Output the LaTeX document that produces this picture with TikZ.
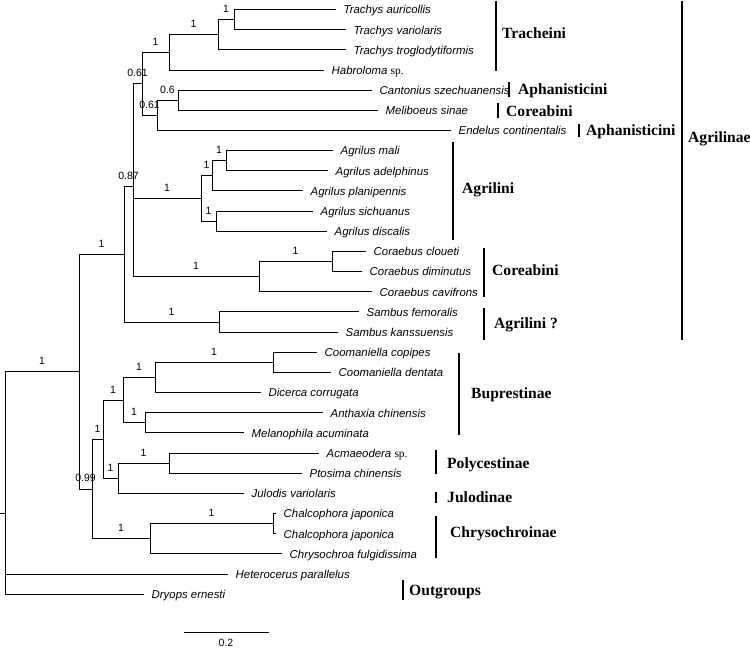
\documentclass[tikz,border=0pt]{standalone}
\usepackage{fontspec}
\setmainfont{Liberation Serif}
\setsansfont{Liberation Sans}
\usepackage{tikz}

\begin{document}
\begin{tikzpicture}[x=1pt,y=-1pt,
  twig/.style={black,line width=1pt,line cap=rect},
  cladebar/.style={black,line width=1.6pt},
  bs/.style={pos=0.75,above=6.5pt,inner sep=0pt,font=\sffamily\fontsize{10.5}{11}\selectfont},
  taxon/.style={anchor=base west,xshift=8.5pt,yshift=-4.3pt,inner sep=0pt,font=\sffamily\itshape\fontsize{11.4}{12}\selectfont},
  cladename/.style={anchor=base west,yshift=-5.2pt,inner sep=0pt,font=\rmfamily\bfseries\fontsize{15.6}{17}\selectfont}]
                          \useasboundingbox (0,0) rectangle (750,649);
                          \coordinate (TAU) at (335,9.5);
                          \coordinate (TVA) at (345,29.7);
                          \coordinate (TTR) at (345,49.8);
                          \coordinate (HAB) at (323,70.0);
                          \coordinate (CAN) at (371,90.1);
                          \coordinate (MEL) at (377,110.3);
                          \coordinate (ENC) at (450,130.5);
                          \coordinate (AMA) at (332,150.6);
                          \coordinate (AAD) at (327,170.8);
                          \coordinate (APL) at (302,190.9);
                          \coordinate (ASI) at (312,211.1);
                          \coordinate (ADI) at (326,231.3);
                          \coordinate (CCL) at (365,251.4);
                          \coordinate (CDI) at (361,271.6);
                          \coordinate (CCA) at (371,291.7);
                          \coordinate (SFE) at (358,311.9);
                          \coordinate (SKA) at (337,332.1);
                          \coordinate (CCO) at (316,352.2);
                          \coordinate (CDE) at (330,372.4);
                          \coordinate (DCO) at (260,392.5);
                          \coordinate (ACH) at (322,412.7);
                          \coordinate (MAC) at (243,432.9);
                          \coordinate (ASP) at (318,453.0);
                          \coordinate (PCH) at (301,473.2);
                          \coordinate (JVA) at (243,493.3);
                          \coordinate (CJA) at (275,513.5);
                          \coordinate (CJB) at (275,533.7);
                          \coordinate (CFU) at (281,553.8);
                          \coordinate (HPA) at (227,574.0);
                          \coordinate (DER) at (143,594.1);

                          \coordinate (N1) at (234,19.6);
                          \coordinate (N2) at (218,34.7);
                          \coordinate (N3) at (169,52.4);
                          \coordinate (N4) at (178,100.2);
                          \coordinate (N5) at (157,115.3);
                          \coordinate (N6) at (142,83.8);
                          \coordinate (N7) at (226,160.7);
                          \coordinate (N8) at (212,175.8);
                          \coordinate (N9) at (216,221.2);
                          \coordinate (N10) at (201,198.5);
                          \coordinate (N11) at (332,261.5);
                          \coordinate (N12) at (259,276.6);
                          \coordinate (N13) at (133,186.3);
                          \coordinate (N14) at (219,322.0);
                          \coordinate (N15) at (124,254.2);
                          \coordinate (N16) at (273,362.3);
                          \coordinate (N17) at (155,377.4);
                          \coordinate (N18) at (145,422.8);
                          \coordinate (N19) at (123,400.1);
                          \coordinate (N20) at (169,463.1);
                          \coordinate (N21) at (118,478.2);
                          \coordinate (N22) at (103,439.2);
                          \coordinate (N23) at (273,523.6);
                          \coordinate (N24) at (150,538.7);
                          \coordinate (N25) at (92,489.0);
                          \coordinate (N26) at (79,371.6);
                          \coordinate (ROOT) at (5,513.2);
                          \coordinate (STUB) at (0,513.2);

                          \draw[twig] (N1) |- (TAU);
                          \draw[twig] (N1) |- (TVA);
                          \draw[twig] (N2) |- node[bs]{1} (N1);
                          \draw[twig] (N2) |- (TTR);
                          \draw[twig] (N3) |- node[bs]{1} (N2);
                          \draw[twig] (N3) |- (HAB);
                          \draw[twig] (N4) |- (CAN);
                          \draw[twig] (N4) |- (MEL);
                          \draw[twig] (N5) |- node[bs]{0.6} (N4);
                          \draw[twig] (N5) |- (ENC);
                          \draw[twig] (N6) |- node[bs]{1} (N3);
                          \draw[twig] (N6) |- node[bs]{0.61} (N5);
                          \draw[twig] (N7) |- (AMA);
                          \draw[twig] (N7) |- (AAD);
                          \draw[twig] (N8) |- node[bs]{1} (N7);
                          \draw[twig] (N8) |- (APL);
                          \draw[twig] (N9) |- (ASI);
                          \draw[twig] (N9) |- (ADI);
                          \draw[twig] (N10) |- node[bs]{1} (N8);
                          \draw[twig] (N10) |- node[bs]{1} (N9);
                          \draw[twig] (N11) |- (CCL);
                          \draw[twig] (N11) |- (CDI);
                          \draw[twig] (N12) |- node[bs]{1} (N11);
                          \draw[twig] (N12) |- (CCA);
                          \draw[twig] (N13) |- node[bs]{0.61} (N6);
                          \draw[twig] (N13) |- node[bs]{1} (N10);
                          \draw[twig] (N13) |- node[bs]{1} (N12);
                          \draw[twig] (N14) |- (SFE);
                          \draw[twig] (N14) |- (SKA);
                          \draw[twig] (N15) |- node[bs]{0.87} (N13);
                          \draw[twig] (N15) |- node[bs]{1} (N14);

                          \draw[twig] (N16) |- (CCO);
                          \draw[twig] (N16) |- (CDE);
                          \draw[twig] (N17) |- node[bs]{1} (N16);
                          \draw[twig] (N17) |- (DCO);
                          \draw[twig] (N18) |- (ACH);
                          \draw[twig] (N18) |- (MAC);
                          \draw[twig] (N19) |- node[bs]{1} (N17);
                          \draw[twig] (N19) |- node[bs]{1} (N18);
                          \draw[twig] (N20) |- (ASP);
                          \draw[twig] (N20) |- (PCH);
                          \draw[twig] (N21) |- node[bs]{1} (N20);
                          \draw[twig] (N21) |- (JVA);
                          \draw[twig] (N22) |- node[bs]{1} (N19);
                          \draw[twig] (N22) |- node[bs]{1} (N21);
                          \draw[twig] (N23) |- (CJA);
                          \draw[twig] (N23) |- (CJB);
                          \draw[twig] (N24) |- node[bs]{1} (N23);
                          \draw[twig] (N24) |- (CFU);
                          \draw[twig] (N25) |- node[bs]{1} (N22);
                          \draw[twig] (N25) |- node[bs]{1} (N24);
                          \draw[twig] (N26) |- node[bs]{1} (N15);
                          \draw[twig] (N26) |- node[bs]{0.99} (N25);
                          \draw[twig] (ROOT) |- node[bs]{1} (N26);
                          \draw[twig] (ROOT) |- (HPA);
                          \draw[twig] (ROOT) |- (DER);
                          \draw[twig] (STUB) -- (ROOT);

                          \node[taxon] (lTAU) at (TAU) {Trachys auricollis};
                          \node[taxon] (lTVA) at (TVA) {Trachys variolaris};
                          \node[taxon] (lTTR) at (TTR) {Trachys troglodytiformis};
                          \node[taxon] (lHAB) at (HAB) {Habroloma {\rmfamily\upshape sp.}};
                          \node[taxon] (lCAN) at (CAN) {Cantonius szechuanensis};
                          \node[taxon] (lMEL) at (MEL) {Meliboeus sinae};
                          \node[taxon] (lENC) at (ENC) {Endelus continentalis};
                          \node[taxon] (lAMA) at (AMA) {Agrilus mali};
                          \node[taxon] (lAAD) at (AAD) {Agrilus adelphinus};
                          \node[taxon] (lAPL) at (APL) {Agrilus planipennis};
                          \node[taxon] (lASI) at (ASI) {Agrilus sichuanus};
                          \node[taxon] (lADI) at (ADI) {Agrilus discalis};
                          \node[taxon] (lCCL) at (CCL) {Coraebus cloueti};
                          \node[taxon] (lCDI) at (CDI) {Coraebus diminutus};
                          \node[taxon] (lCCA) at (CCA) {Coraebus cavifrons};
                          \node[taxon] (lSFE) at (SFE) {Sambus femoralis};
                          \node[taxon] (lSKA) at (SKA) {Sambus kanssuensis};
                          \node[taxon] (lCCO) at (CCO) {Coomaniella copipes};
                          \node[taxon] (lCDE) at (CDE) {Coomaniella dentata};
                          \node[taxon] (lDCO) at (DCO) {Dicerca corrugata};
                          \node[taxon] (lACH) at (ACH) {Anthaxia chinensis};
                          \node[taxon] (lMAC) at (MAC) {Melanophila acuminata};
                          \node[taxon] (lASP) at (ASP) {Acmaeodera {\rmfamily\upshape sp.}};
                          \node[taxon] (lPCH) at (PCH) {Ptosima chinensis};
                          \node[taxon] (lJVA) at (JVA) {Julodis variolaris};
                          \node[taxon] (lCJA) at (CJA) {Chalcophora japonica};
                          \node[taxon] (lCJB) at (CJB) {Chalcophora japonica};
                          \node[taxon] (lCFU) at (CFU) {Chrysochroa fulgidissima};
                          \node[taxon] (lHPA) at (HPA) {Heterocerus parallelus};
                          \node[taxon] (lDER) at (DER) {Dryops ernesti};

                          \draw[cladebar] (496,0.5) -- (496,71);
                          \draw[cladebar] (509,82) -- (509,97);
                          \draw[cladebar] (498,103) -- (498,118);
                          \draw[cladebar] (579,124) -- (579,137);
                          \draw[cladebar] (682,0.5) -- (682,340);
                          \draw[cladebar] (453,142) -- (453,240);
                          \draw[cladebar] (484,248) -- (484,297);
                          \draw[cladebar] (484,308) -- (484,340);
                          \draw[cladebar] (459,353) -- (459,435);
                          \draw[cladebar] (436,450) -- (436,474);
                          \draw[cladebar] (436,492) -- (436,503);
                          \draw[cladebar] (436,516) -- (436,558);
                          \draw[cladebar] (403,580) -- (403,600);

                          \node[cladename] (cTRA) at (502,33) {Tracheini};
                          \node[cladename] (cAPA) at (518,89) {Aphanisticini};
                          \node[cladename] (cCOA) at (506,111) {Coreabini};
                          \node[cladename] (cAPB) at (586,130) {Aphanisticini};
                          \node[cladename] (cAGE) at (688,137) {Agrilinae};
                          \node[cladename] (cAGA) at (462,188) {Agrilini};
                          \node[cladename] (cCOB) at (492,270) {Coreabini};
                          \node[cladename] (cAGB) at (494,323) {Agrilini ?};
                          \node[cladename] (cBUP) at (471,393) {Buprestinae};
                          \node[cladename] (cPOL) at (447,463) {Polycestinae};
                          \node[cladename] (cJUL) at (447,497) {Julodinae};
                          \node[cladename] (cCHR) at (450,532) {Chrysochroinae};
                          \node[cladename] (cOUT) at (409,590) {Outgroups};

                          \coordinate (SB1) at (184,632);
                          \coordinate (SB2) at (268,632);
                          \draw[twig] (SB1) -- node[below=6.5pt,inner sep=0pt,font=\sffamily\fontsize{10.5}{11}\selectfont] (lSB) {0.2} (SB2);
\end{tikzpicture}
\end{document}
